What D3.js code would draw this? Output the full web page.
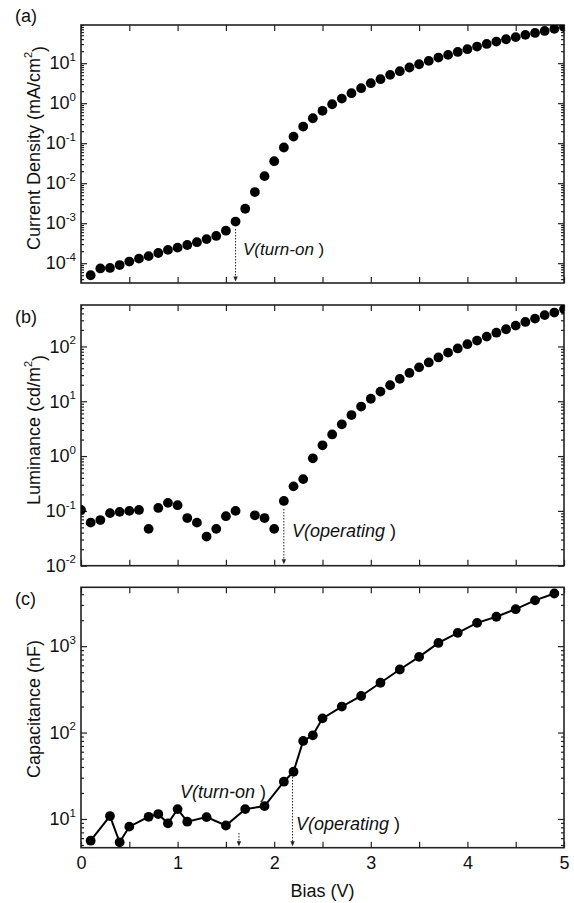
<!DOCTYPE html>
<html>
<head>
<meta charset="utf-8">
<script src="https://cdn.jsdelivr.net/npm/d3@7"></script>
<style>
  body { margin: 0; background: #fff; }
  text { font-family: "Liberation Sans", Arial, sans-serif; fill: #111; }
</style>
</head>
<body>
<svg id="chart" width="574" height="903"></svg>
<script>
// (a) current density vs bias
var biasJ = [0.1,0.2,0.3,0.4,0.5,0.6,0.7,0.8,0.9,1.0,1.1,1.2,1.3,1.4,1.5,1.6,1.7,1.8,1.9,2.0,
             2.1,2.2,2.3,2.4,2.5,2.6,2.7,2.8,2.9,3.0,3.1,3.2,3.3,3.4,3.5,3.6,3.7,3.8,3.9,4.0,
             4.1,4.2,4.3,4.4,4.5,4.6,4.7,4.8,4.9,5.0]
var currentDensity = [5.0e-5,7.4e-5,7.6e-5,9.0e-5,1.1e-4,1.3e-4,1.5e-4,1.8e-4,2.15e-4,2.45e-4,
                      2.85e-4,3.35e-4,4.0e-4,4.8e-4,6.5e-4,1.1e-3,2.3e-3,6.0e-3,1.5e-2,3.55e-2,
                      7.8e-2,0.146,0.26,0.42,0.645,0.94,1.3,1.78,2.37,3.16,
                      3.98,5.1,6.3,7.8,9.4,11.4,13.8,16.1,19.1,22.4,
                      26,30.3,34.7,39.6,44.7,51,57,64,72,80]

// (b) luminance vs bias
var biasL = [0.0,0.1,0.2,0.3,0.4,0.5,0.6,0.7,0.8,0.9,1.0,1.1,1.2,1.3,1.4,1.5,1.6,1.8,1.9,2.0,
             2.1,2.2,2.3,2.4,2.5,2.6,2.7,2.8,2.9,3.0,3.1,3.2,3.3,3.4,3.5,3.6,3.7,3.8,3.9,4.0,
             4.1,4.2,4.3,4.4,4.5,4.6,4.7,4.8,4.9,5.0]
var luminance = [0.104,0.061,0.068,0.091,0.096,0.1,0.104,0.047,0.113,0.14,
                 0.127,0.074,0.061,0.034,0.047,0.08,0.1,0.083,0.074,0.047,
                 0.152,0.28,0.38,0.91,1.57,2.48,3.8,5.6,8.0,11.1,
                 15,19.6,25.6,32.8,41.5,51,63,77,92,110,
                 128,151,178,206,240,280,322,373,415,480]

// (c) capacitance vs bias
var biasC = [0.1,0.3,0.4,0.5,0.7,0.8,0.9,1.0,1.1,1.3,1.5,1.7,1.9,2.1,2.2,2.3,2.4,2.5,2.7,2.9,
             3.1,3.3,3.5,3.7,3.9,4.1,4.3,4.5,4.7,4.9]
var capacitance = [5.6,10.8,5.37,8.15,10.6,11.4,8.9,13,9.3,10.5,8.4,13,14.1,27,35.2,80,93,146,200,265,
                   377,537,751,1090,1425,1860,2190,2680,3390,4070]

var xTicks = [0,0.5,1,1.5,2,2.5,3,3.5,4,4.5,5]
var xLabels = ["0","1","2","3","4","5"]

var svg = d3.select("#chart")
var left = 81, right = 564

var x = d3.scaleLinear().domain([0, 5]).range([left, right])

var panels = [
  {id: "a", letter: "(a)", letterY: 22, top: 25, bottom: 283, domain: [3.2e-5, 90],
   title: ["Current Density (mA/cm", "2", ")"], titleY: 148,
   xs: biasJ, ys: currentDensity, line: false},
  {id: "b", letter: "(b)", letterY: 323, top: 305, bottom: 565.7, domain: [0.01, 570],
   title: ["Luminance (cd/m", "2", ")"], titleY: 430,
   xs: biasL, ys: luminance, line: false},
  {id: "c", letter: "(c)", letterY: 605, top: 587.3, bottom: 847.7, domain: [4.65, 4800],
   title: ["Capacitance (nF)"], titleY: 709,
   xs: biasC, ys: capacitance, line: true}
]

function isMajor(t) {
  var l = Math.log10(t)
  return Math.abs(l - Math.round(l)) < 1e-6
}

panels.forEach(function(p) {
  var y = d3.scaleLog().domain(p.domain).range([p.bottom, p.top])
  p.y = y
  var g = svg.append("g")
  var all = y.ticks()
  var majors = all.filter(isMajor)
  var minors = all.filter(function(t) { return !isMajor(t) })

  // clip
  svg.append("clipPath").attr("id", "clip-" + p.id)
    .append("rect").attr("x", left).attr("y", p.top)
    .attr("width", right - left).attr("height", p.bottom - p.top)

  // left axis: minor + major
  g.append("g").attr("transform", "translate(" + left + ",0)")
    .call(d3.axisLeft(y).tickValues(minors).tickSize(-3).tickFormat(""))
  var la = g.append("g").attr("transform", "translate(" + left + ",0)")
    .call(d3.axisLeft(y).tickValues(majors).tickSize(-6).tickPadding(5)
      .tickFormat(function(d) { return Math.round(Math.log10(d)) }))
  la.selectAll("text").each(function(d) {
    var e = Math.round(Math.log10(d))
    var t = d3.select(this).text("10")
    t.append("tspan").attr("dy", "-0.75em").attr("font-size", "11.5px").text(e)
  })
  la.selectAll("text").attr("font-size", 18).attr("font-family", null).attr("fill", "#111")

  // right axis
  g.append("g").attr("transform", "translate(" + right + ",0)")
    .call(d3.axisRight(y).tickValues(minors).tickSize(-3).tickFormat(""))
  g.append("g").attr("transform", "translate(" + right + ",0)")
    .call(d3.axisRight(y).tickValues(majors).tickSize(-6).tickFormat(""))

  // top / bottom axes
  g.append("g").attr("transform", "translate(0," + p.top + ")")
    .call(d3.axisTop(x).tickValues(xTicks).tickSize(-6).tickFormat(""))
  var ba = g.append("g").attr("transform", "translate(0," + p.bottom + ")")
    .call(d3.axisBottom(x).tickValues(xTicks).tickSize(-6).tickPadding(9)
      .tickFormat(function(d) { return p.id == "c" && d % 1 == 0 ? xLabels[d] : "" }))
  ba.selectAll("text").attr("font-size", 18).attr("font-family", null).attr("fill", "#111")

  g.selectAll(".domain").remove()
  g.selectAll(".tick line").attr("stroke", "#222").attr("stroke-width", 1.2)

  g.append("rect").attr("x", left).attr("y", p.top)
    .attr("width", right - left).attr("height", p.bottom - p.top)
    .attr("fill", "none").attr("stroke", "#222").attr("stroke-width", 1.6)

  var pts = p.xs.map(function(v, i) { return [v, p.ys[i]] })
  var plot = svg.append("g").attr("clip-path", "url(#clip-" + p.id + ")")
  if (p.line) {
    plot.append("path").datum(pts)
      .attr("d", d3.line().x(function(d) { return x(d[0]) }).y(function(d) { return y(d[1]) }))
      .attr("fill", "none").attr("stroke", "#000").attr("stroke-width", 2)
  }
  plot.selectAll("circle").data(pts).enter().append("circle")
    .attr("cx", function(d) { return x(d[0]) })
    .attr("cy", function(d) { return y(d[1]) })
    .attr("r", 4.9)
    .attr("fill", "#000")

  // panel letter
  svg.append("text").attr("x", 15).attr("y", p.letterY).attr("font-size", 18).text(p.letter)

  // y title
  var tt = svg.append("text")
    .attr("transform", "translate(40," + p.titleY + ") rotate(-90)")
    .attr("text-anchor", "middle").attr("font-size", 18)
  tt.append("tspan").text(p.title[0])
  if (p.title.length > 1) {
    tt.append("tspan").attr("dy", "-0.7em").attr("font-size", "11px").text(p.title[1])
    tt.append("tspan").attr("dy", "0.7em").text(p.title[2])
  }
})

// x title
svg.append("text").attr("x", (left + right) / 2).attr("y", 897)
  .attr("text-anchor", "middle").attr("font-size", 18).text("Bias (V)")

// annotations
var annotations = [
  {panel: 0, bias: 1.6, y1: 229, label: "V(turn-on", tx: 243, ty: 255},
  {panel: 1, bias: 2.1, y1: 509, label: "V(operating", tx: 292, ty: 537},
  {panel: 2, bias: 1.635, y1: 833, label: "V(turn-on", tx: 180, ty: 798},
  {panel: 2, bias: 2.19, y1: 777, label: "V(operating", tx: 296, ty: 830}
]

annotations.forEach(function(a) {
  var p = panels[a.panel]
  var ax = x(a.bias)
  var y2 = p.bottom - 1.5
  svg.append("line").attr("x1", ax).attr("x2", ax).attr("y1", a.y1).attr("y2", y2 - 4)
    .attr("stroke", "#222").attr("stroke-width", 1).attr("stroke-dasharray", "1.5,1.5")
  svg.append("path")
    .attr("d", "M" + (ax - 2.2) + "," + (y2 - 5) + "L" + (ax + 2.2) + "," + (y2 - 5) + "L" + ax + "," + y2 + "Z")
    .attr("fill", "#222")
  var t = svg.append("text").attr("x", a.tx).attr("y", a.ty).attr("font-size", a.panel == 0 ? 17 : 18).attr("fill", "#222")
  t.append("tspan").attr("font-style", "italic").text(a.label)
  t.append("tspan").text(" )")
})
</script>
</body>
</html>
